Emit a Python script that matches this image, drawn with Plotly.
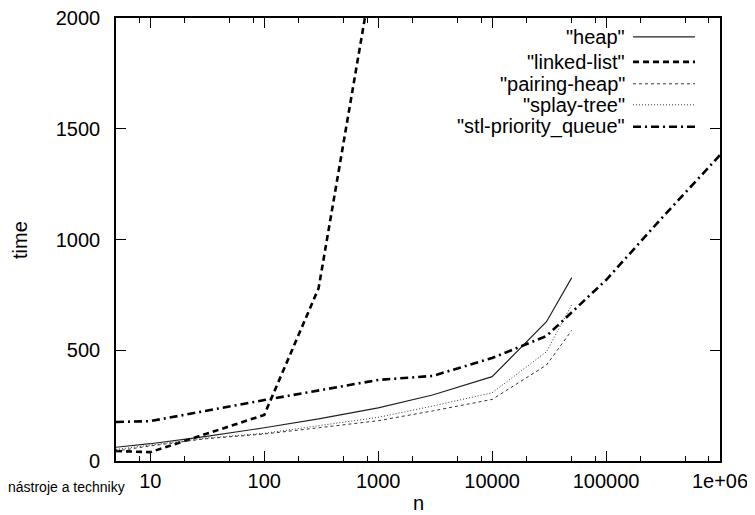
import plotly.graph_objects as go
import math

# ---- data ----
n_small = [5, 10, 30, 100, 300, 1000, 3000, 10000, 30000, 50000]
heap = [62, 78, 110, 150, 190, 240, 298, 381, 629, 828]
pairing_heap = [45, 68, 100, 122, 150, 182, 226, 278, 433, 590]
splay_tree = [52, 72, 103, 125, 158, 197, 248, 308, 493, 706]

n_linked = [5, 10, 100, 300, 1000]
linked_list = [45, 40, 208, 780, 2350]

n_stl = [5, 10, 100, 1000, 3000, 10000, 30000, 50000, 100000, 300000, 1000000]
stl_pq = [176, 180, 275, 366, 384, 465, 564, 673, 817, 1090, 1381]

x_tickvals = [10, 100, 1000, 10000, 100000, 1000000]
x_ticktext = ["10", "100", "1000", "10000", "100000", "1e+06"]
x_minor = [m * 10 ** e for e in range(0, 6) for m in (2, 5, 8)]
y_tickvals = [0, 500, 1000, 1500, 2000]

names = ['"heap"', '"linked-list"', '"pairing-heap"', '"splay-tree"', '"stl-priority_queue"']
xs = [n_small, n_linked, n_small, n_small, n_stl]
ys = [heap, linked_list, pairing_heap, splay_tree, stl_pq]
styles = [
    dict(color="#222", width=1.2, dash="solid"),
    dict(color="black", width=2.6, dash="6px,4px"),
    dict(color="#333", width=1, dash="3px,3px"),
    dict(color="#333", width=1, dash="1px,2px"),
    dict(color="black", width=2.6, dash="8px,4px,2px,4px"),
]

FONT = "Liberation Sans, Arial, Helvetica, sans-serif"

fig = go.Figure()
for name, x, y, st in zip(names, xs, ys, styles):
    fig.add_trace(go.Scatter(x=x, y=y, mode="lines", name=name, line=st,
                             showlegend=False))

# gnuplot-style legend: right-aligned text with sample line on the right
leg_y = [0.9576, 0.901, 0.8515, 0.804, 0.7545]
for name, st, ly in zip(names, styles, leg_y):
    fig.add_annotation(x=0.846, y=ly, xref="paper", yref="paper", text=name,
                       showarrow=False, xanchor="right", yanchor="middle",
                       font=dict(family=FONT, size=20, color="black"))
    fig.add_shape(type="line", xref="paper", yref="paper",
                  x0=0.856, x1=0.9586, y0=ly, y1=ly, line=st)

# axis titles placed as in the reference
fig.add_annotation(x=(20 - 116) / 604, y=(461 - 240) / 443, xref="paper", yref="paper",
                   text="time", textangle=-90, showarrow=False,
                   xanchor="center", yanchor="middle",
                   font=dict(family=FONT, size=20, color="black"))
fig.add_annotation(x=0.5, y=(461 - 503) / 443, xref="paper", yref="paper",
                   text="n", showarrow=False, xanchor="center", yanchor="middle",
                   font=dict(family=FONT, size=20, color="black"))

# page footer fragment
fig.add_annotation(x=(6 - 116) / 604, y=(461 - 487) / 443, xref="paper", yref="paper",
                   text="nástroje a techniky", showarrow=False,
                   xanchor="left", yanchor="middle",
                   font=dict(family=FONT, size=14, color="black"))

axis_common = dict(showgrid=False, zeroline=False, showline=True, linecolor="black",
                   linewidth=1.6, mirror="ticks", ticks="inside", ticklen=10,
                   tickwidth=1.3, tickcolor="black", ticklabeloverflow="allow",
                   tickfont=dict(family=FONT, size=20, color="black"))

fig.update_xaxes(type="log", range=[math.log10(5), 6], tickmode="array",
                 tickvals=x_tickvals, ticktext=x_ticktext, ticklabelstandoff=1,
                 minor=dict(tickmode="array", tickvals=x_minor, ticks="inside",
                            ticklen=5, tickwidth=1.3, tickcolor="black"),
                 **axis_common)
fig.update_yaxes(range=[0, 2000], tickmode="array", tickvals=y_tickvals,
                 ticklabelstandoff=10, **axis_common)

# page body has an 8px margin: figure is 8px smaller, left/top margins shifted
fig.update_layout(width=747, height=507,
                  margin=dict(l=108, r=35, t=10, b=54, autoexpand=False),
                  paper_bgcolor="white", plot_bgcolor="white",
                  font=dict(family=FONT, size=20, color="black"))

fig.write_html("out.html")
